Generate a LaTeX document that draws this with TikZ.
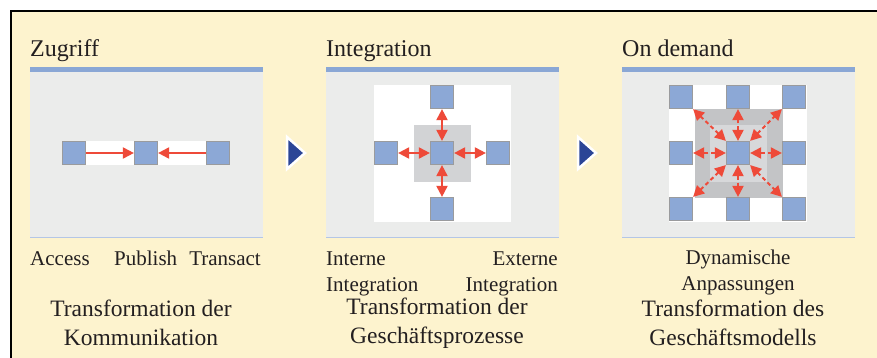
\documentclass[tikz,border=0pt]{standalone}
\usepackage{fontspec}
\setmainfont{Liberation Serif}
\usetikzlibrary{arrows.meta,positioning}

\definecolor{paper}{HTML}{FDF3CE}
\definecolor{panelgray}{HTML}{EBECEB}
\definecolor{barblue}{HTML}{8AA7D5}
\definecolor{rimblue}{HTML}{B4C6E6}
\definecolor{sqblue}{HTML}{8CA8D6}
\definecolor{sqedge}{HTML}{9A9B9D}
\definecolor{arrred}{HTML}{EE4A39}
\definecolor{coregray}{HTML}{D2D3D5}
\definecolor{coredark}{HTML}{C3C4C6}
\definecolor{corelight}{HTML}{D7D8DA}
\definecolor{navy}{HTML}{2B4596}
\definecolor{ink}{HTML}{231F20}

\begin{document}
\begin{tikzpicture}[x=1pt, y=-1pt,
    sq/.style={rectangle, draw=sqedge, fill=sqblue, line width=1.2pt, minimum size=23pt, inner sep=0pt},
    link/.style={draw=arrred, line width=2pt, -{Triangle[length=11pt,width=11pt]}},
    twoway/.style={link, {Triangle[length=11pt,width=11pt]}-{Triangle[length=11pt,width=11pt]}},
    loose/.style={twoway, dash pattern=on 4pt off 3pt},
    heading/.style={text=ink, inner sep=0pt, font=\fontsize{24}{28}\selectfont},
    tag/.style={text=ink, inner sep=0pt, font=\fontsize{21}{26}\selectfont},
    motto/.style={text=ink, inner sep=0pt, align=center, font=\fontsize{23.5}{29}\selectfont},
    stagearrow/.style={draw=white, line width=2.5pt, fill=navy, line join=miter}]
  \useasboundingbox (0,0) rectangle (877,358);
  % background
  \fill[paper] (11,11) rectangle (877,358);
  \draw[line width=1.3pt] (877,11) -- (11,11) -- (11,358);

  % panels
  \foreach \x in {30,326,622} {
    \fill[panelgray] (\x,71) rectangle (\x+233,237);
    \fill[barblue] (\x,67) rectangle (\x+233,72);
    \draw[rimblue, line width=1pt] (\x,237) -- (\x+233,237);
  }

  % stage arrows
  \foreach \x in {287,578} {
    \filldraw[stagearrow] (\x,137) -- (\x+18,153) -- (\x,169) -- cycle;
  }

  % Zugriff
  \node[heading, anchor=base west] (t1) at (30,57) {Zugriff};
  \fill[white] (62,141) rectangle (230,165);
  \node[sq] (acc) at (74,153) {};
  \node[sq] (pub) at (146,153) {};
  \node[sq] (tra) at (218,153) {};
  \draw[link] (acc) -- (pub);
  \draw[link] (tra) -- (pub);
  \node[tag, anchor=base west] (l1) at (30,265) {Access};
  \node[tag, anchor=base west] (l2) at (114,265) {Publish};
  \node[tag, anchor=base east] (l3) at (261,265) {Transact};
  \node[motto, anchor=base] (m1) at (141,345) {Transformation der\\Kommunikation};

  % Integration
  \node[heading, anchor=base west] (t2) at (326,57) {Integration};
  \fill[white] (374,85) rectangle (511,222);
  \fill[coregray] (414,125) rectangle (471,182);
  \node[sq] (ic) at (442,153) {};
  \node[sq] (in) at (442,97) {};
  \node[sq] (is) at (442,209) {};
  \node[sq] (iw) at (386,153) {};
  \node[sq] (ie) at (498,153) {};
  \foreach \o in {in,is,iw,ie} {
    \draw[twoway] (ic) -- (\o);
  }
  \node[tag, anchor=base west, align=left] (l4) at (326,291) {Interne\\Integration};
  \node[tag, anchor=base east, align=right] (l5) at (558,291) {Externe\\Integration};
  \node[motto, anchor=base] (m2) at (437,343) {Transformation der\\Geschäftsprozesse};

  % On demand
  \node[heading, anchor=base west] (t3) at (622,57) {On demand};
  \fill[white] (669,85) rectangle (807,222);
  \fill[coredark] (695,109) rectangle (783,198);
  \fill[corelight] (710,125) rectangle (767,182);
  \foreach \c/\x in {1/681,2/738,3/794} {
    \foreach \r/\y in {1/97,2/153,3/209} {
      \node[sq] (d\r\c) at (\x,\y) {};
    }
  }
  \draw[loose] (d22.north) -- (d12.south);
  \draw[loose] (d22.south) -- (d32.north);
  \draw[loose] (d22.west) -- (d21.east);
  \draw[loose] (d22.east) -- (d23.west);
  \draw[loose] (d22.north west) -- (d11.south east);
  \draw[loose] (d22.north east) -- (d13.south west);
  \draw[loose] (d22.south west) -- (d31.north east);
  \draw[loose] (d22.south east) -- (d33.north west);
  \node[tag, anchor=base, align=center] (l6) at (738,290) {Dynamische\\Anpassungen};
  \node[motto, anchor=base] (m3) at (733,345) {Transformation des\\Geschäftsmodells};
\end{tikzpicture}
\end{document}
